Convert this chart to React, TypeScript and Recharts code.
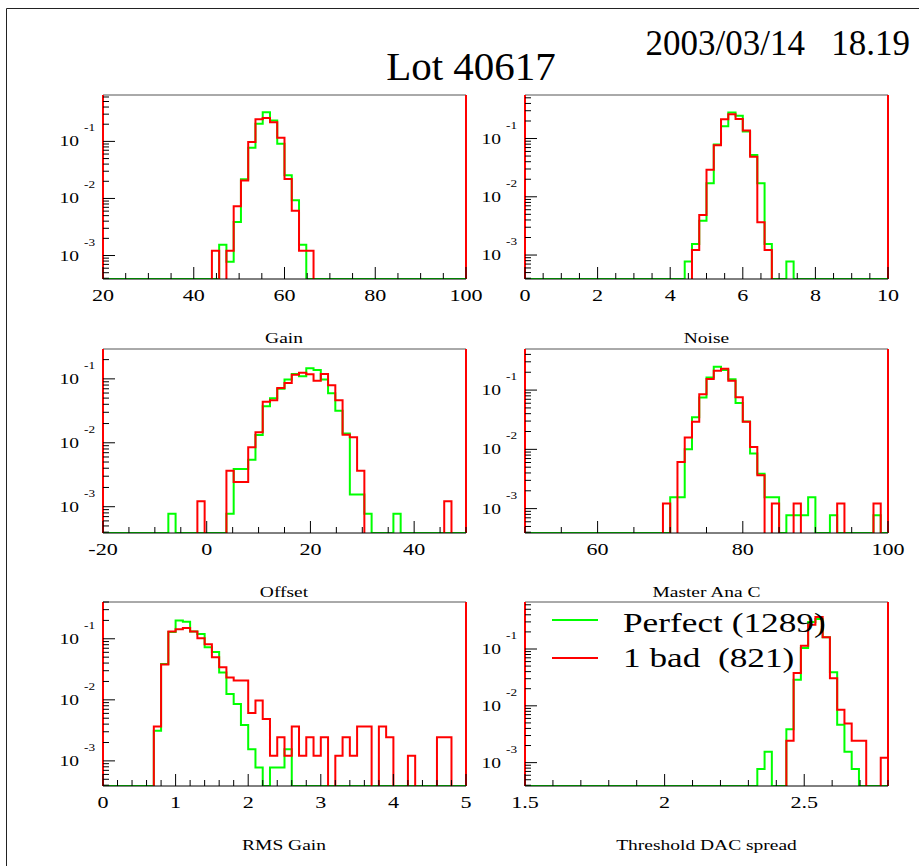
import React from "react";
import { LineChart, Line, XAxis, YAxis, ReferenceLine } from "recharts";

const PERFECT_TOTAL = 1289;
const ONE_BAD_TOTAL = 821;
const NBINS = 50;
const seriesNames = [`Perfect (${PERFECT_TOTAL})`, `1 bad  (${ONE_BAD_TOTAL})`];

// counts per bin, listed from the first bin index given
const gainRange = [20, 100];
const gainFirstBin = 15;
const gainPerfect = [0, 2, 1, 5, 28, 100, 262, 419, 299, 117, 33, 12, 2, 0];
const gainOneBad = [1, 0, 1, 6, 17, 80, 201, 212, 178, 95, 18, 5, 1, 1];
const gainTicks = [20, 40, 60, 80, 100];

const noiseRange = [0, 10];
const noiseFirstBin = 22;
const noisePerfect = [1, 2, 5, 22, 102, 210, 360, 316, 170, 67, 22, 2, 0, 0, 1];
const noiseOneBad = [0, 1, 4, 24, 63, 176, 214, 178, 113, 40, 3, 1, 0, 0, 0];
const noiseTicks = [0, 2, 4, 6, 8, 10];

const offsetRange = [-20, 50];
const offsetFirstBin = 9;
const offsetPerfect = [1, 0, 0, 0, 0, 0, 0, 0, 1, 5, 5, 7, 17, 48, 64, 90, 126, 154, 142, 189, 178, 126, 77, 41, 18, 2, 2, 1, 0, 0, 0, 1, 0, 0, 0, 0, 0, 0, 0];
const offsetOneBad = [0, 0, 0, 0, 1, 0, 0, 0, 3, 2, 2, 7, 12, 36, 38, 59, 71, 95, 102, 97, 77, 98, 65, 38, 11, 10, 3, 0, 0, 0, 0, 0, 0, 0, 0, 0, 0, 0, 1];
const offsetTicks = [-20, 0, 20, 40];

const anaRange = [50, 100];
const anaFirstBin = 19;
const anaPerfect = [0, 2, 2, 13, 45, 97, 210, 318, 280, 197, 78, 38, 11, 5, 2, 2, 0, 1, 1, 1, 2, 0, 0, 1, 0, 0, 0, 0, 0, 1];
const anaOneBad = [1, 0, 5, 13, 24, 70, 126, 174, 188, 118, 62, 24, 9, 3, 0, 1, 0, 0, 1, 0, 0, 0, 0, 0, 1, 0, 0, 0, 0, 1];
const anaTicks = [60, 80, 100];

const rmsRange = [0, 5];
const rmsFirstBin = 7;
const rmsPerfect = [4, 50, 166, 258, 245, 170, 154, 94, 78, 36, 16, 11, 5, 2, 1, 0, 1, 1, 2];
const rmsOneBad = [3, 31, 108, 118, 123, 108, 84, 67, 41, 28, 19, 17, 17, 5, 8, 4, 1, 2, 1, 3, 1, 2, 1, 2, 0, 1, 2, 1, 3, 3, 0, 3, 2, 0, 0, 1, 0, 0, 0, 2, 2];
const rmsTicks = [0, 1, 2, 3, 4, 5];

const dacRange = [1.5, 2.8];
const dacFirstBin = 32;
const dacPerfect = [1, 2, 0, 0, 5, 37, 134, 384, 433, 207, 50, 6, 2, 1, 0, 0, 0, 0];
const dacOneBad = [0, 0, 0, 0, 2, 31, 94, 219, 299, 132, 25, 7, 4, 2, 2, 0, 0, 1];
const dacTicks = [1.5, 2, 2.5];

const FONT = "'Liberation Serif', 'Times New Roman', serif";
const STRETCH = 1.3;
const PLOT_W = 363;
const PLOT_H = 184;
const Y_W = 80;
const M_TOP = 10;
const M_RIGHT = 25;
const X_H = 35;
const FLOOR = 0.5 / PERFECT_TOTAL;

function histRows(range: number[], first: number, perfect: number[], bad: number[]) {
  const [lo, hi] = range;
  const w = (hi - lo) / NBINS;
  const rows = [];
  for (let k = 0; k <= NBINS; k++) {
    const i = k - first;
    const g = k < NBINS && i >= 0 && i < perfect.length ? perfect[i] : 0;
    const b = k < NBINS && i >= 0 && i < bad.length ? bad[i] : 0;
    rows.push({
      x: lo + k * w,
      perfect: g > 0 ? g / PERFECT_TOTAL : FLOOR,
      bad: b > 0 ? b / ONE_BAD_TOTAL : FLOOR * 0.5,
    });
  }
  return rows;
}

function stepTicks(range: number[], step: number) {
  const out: number[] = [];
  const n = Math.round((range[1] - range[0]) / step);
  for (let i = 0; i <= n; i++) out.push(+(range[0] + i * step).toFixed(4));
  return out;
}

function logTicks(lo: number, hi: number) {
  const out: number[] = [];
  for (const d of [1e-4, 1e-3, 1e-2, 1e-1]) {
    for (let m = 1; m <= 9; m++) {
      const v = m * d;
      if (v >= lo && v <= hi) out.push(v);
    }
  }
  return out;
}

const PB = M_TOP + PLOT_H;

function XTick({ x, payload, majors }: any) {
  const v = payload.value;
  const major = majors.some((m: number) => Math.abs(m - v) < 1e-6);
  return (
    <g>
      <line x1={x} x2={x} y1={PB} y2={PB - (major ? 12 : 6)} stroke="#000" strokeWidth={1} />
      {major && (
        <text transform={`translate(${x},${PB + 22}) scale(${STRETCH},1)`} textAnchor="middle" fontSize={17} fontFamily={FONT} fill="#000">
          {String(v)}
        </text>
      )}
    </g>
  );
}

function YTick({ y, payload }: any) {
  const v = payload.value;
  const exp = Math.log10(v);
  const major = Math.abs(exp - Math.round(exp)) < 1e-6;
  return (
    <g>
      <line x1={Y_W} x2={Y_W + (major ? 12 : 6)} y1={y} y2={y} stroke="#000" strokeWidth={1} />
      {major && (
        <g>
          <text transform={`translate(${Y_W - 24},${y + 5}) scale(${STRETCH},1)`} textAnchor="end" fontSize={15} fontFamily={FONT} fill="#000">
            10
          </text>
          <text transform={`translate(${Y_W - 19},${y - 10}) scale(1.2,1)`} textAnchor="start" fontSize={11} fontFamily={FONT} fill="#000">
            {String(Math.round(exp))}
          </text>
        </g>
      )}
    </g>
  );
}

function HistPanel({ left, top, range, first, perfect, bad, majors, minorStep }: any) {
  const data = histRows(range, first, perfect, bad);
  const ymax = (2 * Math.max(...perfect)) / PERFECT_TOTAL;
  const xTicks = Array.from(new Set([...stepTicks(range, minorStep), ...majors])).sort((a, b) => a - b);
  return (
    <div style={{ position: "absolute", left: left - Y_W, top: top - M_TOP }}>
      <LineChart width={Y_W + PLOT_W + M_RIGHT} height={M_TOP + PLOT_H + X_H} data={data} margin={{ top: M_TOP, right: M_RIGHT, left: 0, bottom: 0 }}>
        <XAxis
          type="number"
          dataKey="x"
          domain={range}
          ticks={xTicks}
          interval={0}
          allowDataOverflow
          height={X_H}
          tickLine={false}
          axisLine={{ stroke: "#000", strokeWidth: 1 }}
          tick={<XTick majors={majors} />}
        />
        <YAxis
          type="number"
          scale="log"
          domain={[FLOOR, ymax]}
          allowDataOverflow
          ticks={logTicks(FLOOR, ymax)}
          interval={0}
          width={Y_W}
          tickLine={false}
          axisLine={{ stroke: "#ff0000", strokeWidth: 2 }}
          tick={<YTick />}
        />
        <ReferenceLine y={ymax} stroke="#555" strokeWidth={1} />
        <ReferenceLine x={range[1]} stroke="#ff0000" strokeWidth={2} />
        <Line type="stepAfter" dataKey="perfect" stroke="#00ff00" strokeWidth={2} dot={false} activeDot={false} isAnimationActive={false} />
        <Line type="stepAfter" dataKey="bad" stroke="#ff0000" strokeWidth={2} dot={false} activeDot={false} isAnimationActive={false} />
      </LineChart>
    </div>
  );
}

const COL = [102.5, 525];
const ROW = [95, 348.5, 602];

const panels = [
  { title: "Gain", range: gainRange, first: gainFirstBin, perfect: gainPerfect, bad: gainOneBad, majors: gainTicks, minorStep: 5 },
  { title: "Noise", range: noiseRange, first: noiseFirstBin, perfect: noisePerfect, bad: noiseOneBad, majors: noiseTicks, minorStep: 0.5 },
  { title: "Offset", range: offsetRange, first: offsetFirstBin, perfect: offsetPerfect, bad: offsetOneBad, majors: offsetTicks, minorStep: 5 },
  { title: "Master Ana C", range: anaRange, first: anaFirstBin, perfect: anaPerfect, bad: anaOneBad, majors: anaTicks, minorStep: 5 },
  { title: "RMS Gain", range: rmsRange, first: rmsFirstBin, perfect: rmsPerfect, bad: rmsOneBad, majors: rmsTicks, minorStep: 0.2 },
  { title: "Threshold DAC spread", range: dacRange, first: dacFirstBin, perfect: dacPerfect, bad: dacOneBad, majors: dacTicks, minorStep: 0.1 },
];

export default function App() {
  return (
    <div style={{ position: "absolute", left: 0, top: 0, width: 919, height: 866, background: "#fff", overflow: "hidden" }}>
      {panels.map((p, i) => (
        <HistPanel key={p.title} left={COL[i % 2]} top={ROW[Math.floor(i / 2)]} {...p} />
      ))}
      <svg width={919} height={866} style={{ position: "absolute", left: 0, top: 0, pointerEvents: "none" }}>
        <path d="M6.5,866 V8.5 H919" fill="none" stroke="#222" strokeWidth={1} />
        <text x={471} y={80} textAnchor="middle" fontSize={41} fontFamily={FONT} fill="#000">
          Lot 40617
        </text>
        <text x={910} y={55} textAnchor="end" fontSize={35} fontFamily={FONT} fill="#000" style={{ whiteSpace: "pre" }}>
          {"2003/03/14   18.19"}
        </text>
        {panels.map((p, i) => {
          const cx = COL[i % 2] + PLOT_W / 2;
          const by = ROW[Math.floor(i / 2)] + PLOT_H + 64;
          return (
            <text key={p.title} transform={`translate(${cx},${by}) scale(${STRETCH},1)`} textAnchor="middle" fontSize={15} fontFamily={FONT} fill="#000">
              {p.title}
            </text>
          );
        })}
        <line x1={552} x2={598} y1={620} y2={620} stroke="#00ff00" strokeWidth={2} />
        <line x1={552} x2={598} y1={658} y2={658} stroke="#ff0000" strokeWidth={2} />
        <text transform={`translate(623,632) scale(1.26,1)`} fontSize={28} fontFamily={FONT} fill="#000" style={{ whiteSpace: "pre" }}>
          {seriesNames[0]}
        </text>
        <text transform={`translate(623,667) scale(1.26,1)`} fontSize={28} fontFamily={FONT} fill="#000" style={{ whiteSpace: "pre" }}>
          {seriesNames[1]}
        </text>
      </svg>
    </div>
  );
}
